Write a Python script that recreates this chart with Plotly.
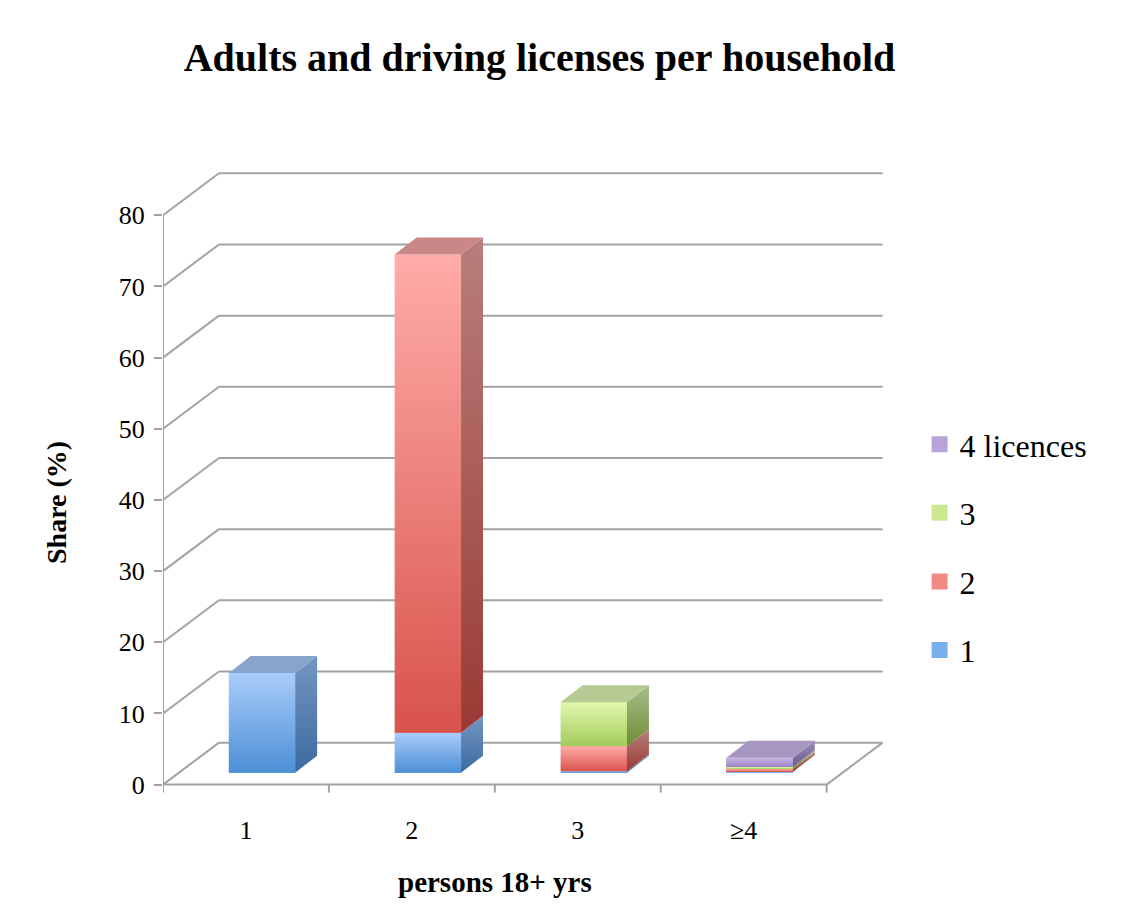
import plotly.graph_objects as go

# ---------------- data ----------------
categories = ["1", "2", "3", "≥4"]
series_names = ["1", "2", "3", "4 licences"]
lic1 = [14.0, 5.6, 0.2, 0.1]
lic2 = [0.0, 67.2, 3.5, 0.4]
lic3 = [0.0, 0.0, 6.2, 0.3]
lic4 = [0.0, 0.0, 0.0, 1.3]
y_ticks = [0, 10, 20, 30, 40, 50, 60, 70, 80]

series_values = [lic1, lic2, lic3, lic4]

# ---------------- style ----------------
FONT = "Liberation Serif"
front_top = ["#a9cdfa", "#ffaca8", "#e2f8ae", "#cbb8e6"]
front_bot = ["#4d8fd6", "#d8534b", "#a3cb5b", "#9b82c6"]
side_top = ["#7596c2", "#b87e7c", "#a8be8c", "#9a8cb6"]
side_bot = ["#3b6aa0", "#993a33", "#6d8d35", "#6e5a92"]
top_col = ["#87a5cc", "#c98887", "#b6ca93", "#a697c1"]
legend_col = ["#78aeea", "#f08a83", "#cbe890", "#b7a2d9"]
grid_col = "#a3a3a3"

OFF = 8                      # page body margin
W, H = 1131 - OFF, 910 - OFF  # figure size
px_x = 166.0      # pixels per category unit
px_y = 7.125      # pixels per percentage point
x_lo, x_hi = -0.5, 3.9
y_lo, y_hi = -1.6, 86.5
left_px = 163.0 - OFF
zero_px = 785.0 - OFF
plot_w = (x_hi - x_lo) * px_x
plot_h = (y_hi - y_lo) * px_y
bottom_px = zero_px - y_lo * px_y
top_px = bottom_px - plot_h
m_l, m_t = left_px, top_px
m_r, m_b = W - left_px - plot_w, H - bottom_px

def paper_x(px):
    return (px - OFF - left_px) / plot_w

def paper_y(py):
    return (bottom_px - (py - OFF)) / plot_h

# 3D offsets (in data units)
wall_dx, wall_dy = 56 / px_x, 42 / px_y
bar_dx, bar_dy = 16 / px_x, 12 / px_y
depth_dx, depth_dy = 22 / px_x, 17 / px_y
bar_w = 0.40

fig = go.Figure()

# ---- bars (front faces) through the library ----
n_cat = len(categories)
bases = [[0.0] * n_cat for _ in series_values]
run = [0.0] * n_cat
for s, vals in enumerate(series_values):
    for i in range(n_cat):
        bases[s][i] = run[i]
        run[i] += vals[i]

for s in range(len(series_values)):
    fig.add_trace(go.Bar(
        x=[i + bar_dx for i in range(n_cat)],
        y=series_values[s],
        base=[b + bar_dy for b in bases[s]],
        width=bar_w,
        name=series_names[s],
        showlegend=False,
        marker=dict(color=legend_col[s], line=dict(width=0)),
        hoverinfo="skip",
    ))

# ---- 3D faces derived from the same values ----
def poly(xs, ys, c_top, c_bot=None, y0=None, y1=None):
    kw = dict(x=xs + [xs[0]], y=ys + [ys[0]], mode="lines", fill="toself",
              line=dict(width=0), showlegend=False, hoverinfo="skip")
    kw["fillcolor"] = c_top
    if c_bot is not None:
        kw["fillgradient"] = dict(type="vertical", start=y0, stop=y1,
                                  colorscale=[[0, c_bot], [1, c_top]])
    fig.add_trace(go.Scatter(**kw))

for i in range(n_cat):
    xl = i + bar_dx - bar_w / 2
    xr = i + bar_dx + bar_w / 2
    top_s = None
    for s, vals in enumerate(series_values):
        v = vals[i]
        if v <= 0:
            continue
        b = bases[s][i] + bar_dy
        t = b + v
        poly([xl, xr, xr, xl], [b, b, t, t], front_top[s], front_bot[s], b, t)
        poly([xr, xr + depth_dx, xr + depth_dx, xr],
             [b, b + depth_dy, t + depth_dy, t], side_top[s], side_bot[s], b, t + depth_dy)
        top_s = (s, t)
    if top_s:
        s, t = top_s
        poly([xl, xl + depth_dx, xr + depth_dx, xr],
             [t, t + depth_dy, t + depth_dy, t], top_col[s])

# ---- legend entries (square swatches) ----
for s in reversed(range(len(series_values))):
    fig.add_trace(go.Scatter(
        x=[None], y=[None], mode="markers", name=series_names[s],
        legendgroup=series_names[s],
        marker=dict(symbol="square", size=16, color=legend_col[s], line=dict(width=0)),
    ))

# ---- walls / grid lines as shapes ----
shapes = []
def line(x0, y0, x1, y1, layer="below"):
    shapes.append(dict(type="line", xref="x", yref="y", x0=x0, y0=y0, x1=x1, y1=y1,
                       line=dict(color=grid_col, width=2), layer=layer))

x_front_l, x_front_r = -0.5, n_cat - 0.5
for v in y_ticks:
    line(x_front_l, v, x_front_l + wall_dx, v + wall_dy)
    line(x_front_l + wall_dx, v + wall_dy, x_front_r + wall_dx, v + wall_dy)
line(x_front_l, 0, x_front_l, y_ticks[-1])
line(x_front_l, 0, x_front_r, 0)
line(x_front_r, 0, x_front_r + wall_dx, wall_dy)
for k in range(n_cat + 1):
    line(x_front_l + k, 0, x_front_l + k, -8 / px_y)

annotations = [
    dict(text="<b>Share (%)</b>", textangle=-90, xref="paper", yref="paper",
         x=paper_x(57), y=paper_y(503), xanchor="center", yanchor="middle",
         showarrow=False, font=dict(family=FONT, size=28, color="#000")),
    dict(text="<b>persons 18+ yrs</b>", xref="paper", yref="paper",
         x=paper_x(495), y=paper_y(882), xanchor="center", yanchor="middle",
         showarrow=False, font=dict(family=FONT, size=29, color="#000")),
]

fig.update_layout(
    width=W, height=H, autosize=False,
    margin=dict(l=m_l, r=m_r, t=m_t, b=m_b, pad=0),
    paper_bgcolor="white", plot_bgcolor="white",
    barmode="overlay", bargap=0,
    title=dict(text="<b>Adults and driving licenses per household</b>",
               x=(539.5 - OFF) / W, y=1 - (57 - OFF) / H, xanchor="center", yanchor="middle",
               xref="container", yref="container",
               font=dict(family=FONT, size=40, color="#000")),
    xaxis=dict(range=[x_lo, x_hi], tickvals=list(range(n_cat)), ticktext=categories,
               showgrid=False, zeroline=False, showline=False, ticks="",
               ticklabelstandoff=16,
               tickfont=dict(family=FONT, size=26, color="#000")),
    yaxis=dict(range=[y_lo, y_hi], tickvals=y_ticks, showgrid=False, zeroline=False,
               showline=False, ticks="outside", ticklen=8, tickwidth=2, tickcolor=grid_col,
               ticklabelstandoff=4,
               tickfont=dict(family=FONT, size=26, color="#000")),
    legend=dict(x=paper_x(920), y=paper_y(547.5), xanchor="left", yanchor="middle",
                traceorder="grouped", tracegroupgap=24,
                font=dict(family=FONT, size=32, color="#000"),
                bgcolor="rgba(0,0,0,0)"),
    shapes=shapes,
    annotations=annotations,
    showlegend=True,
)

fig.write_html("out.html")
